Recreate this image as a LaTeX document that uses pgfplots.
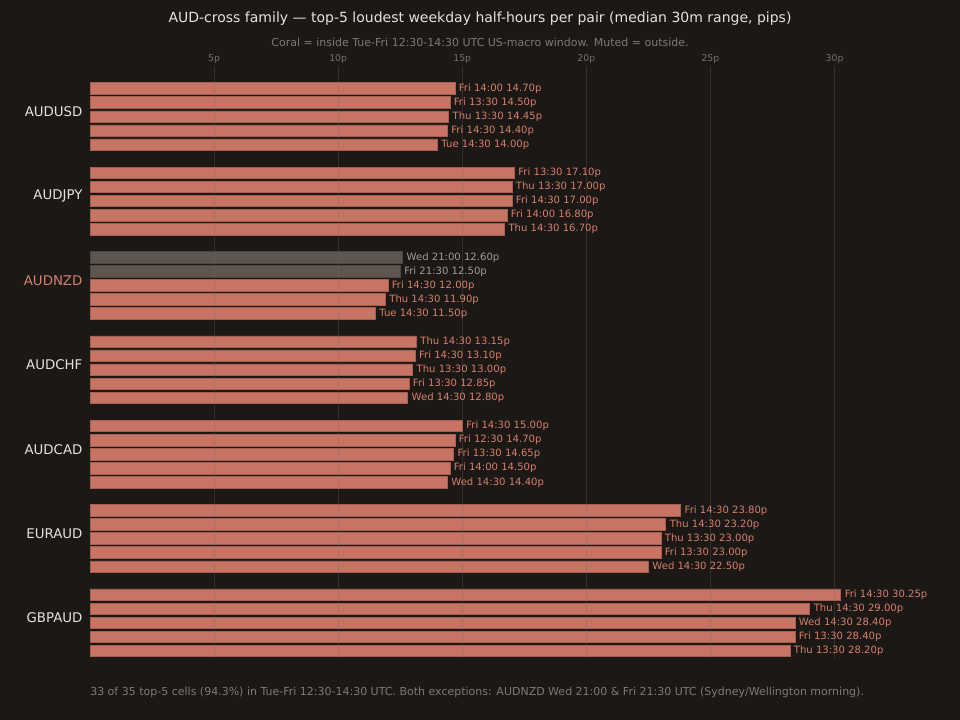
\documentclass[border=0pt]{standalone}
\usepackage{pgfplots}
\pgfplotsset{compat=1.18}
\usepackage{fontspec}
\setmainfont{DejaVu Sans}
\definecolor{bgc}{RGB}{28,24,22}
\definecolor{coral}{RGB}{200,116,100}
\definecolor{coraledge}{RGB}{165,95,82}
\definecolor{coraltxt}{RGB}{214,128,108}
\definecolor{muted}{RGB}{92,85,80}
\definecolor{mutededge}{RGB}{76,70,66}
\definecolor{mutedtxt}{RGB}{165,157,150}
\definecolor{titlec}{RGB}{232,226,220}
\definecolor{subc}{RGB}{128,120,114}
\definecolor{tickc}{RGB}{120,112,106}
\definecolor{gridc}{RGB}{108,100,95}
\begin{document}
\begin{tikzpicture}
\fill[bgc] (0,0) rectangle (720pt,-540pt);
\useasboundingbox (0,0) rectangle (720pt,-540pt);
\begin{axis}[
  at={(67.5pt,-49.5pt)}, anchor=north west,
  scale only axis, width=631pt, height=444pt,
  xmin=0, xmax=33.9, ymin=-1.6, ymax=40.5, y dir=reverse,
  axis line style={draw=none},
  major tick length=0pt,
  xtick={5,10,15,20,25,30},
  xticklabels={5p,10p,15p,20p,25p,30p},
  xticklabel pos=upper,
  xticklabel style={font=\fontsize{7}{8}\selectfont, text=tickc, inner sep=0pt, yshift=1.5pt},
  ytick={1.6,7.6,13.6,19.6,25.6,31.6,37.6},
  yticklabels={AUDUSD,AUDJPY,\textcolor{coraltxt}{AUDNZD},AUDCHF,AUDCAD,EURAUD,GBPAUD},
  yticklabel style={font=\fontsize{10}{12}\selectfont, text=titlec, inner sep=0pt, xshift=-5.5pt, yshift=-0.5pt},
  xmajorgrids, grid style={gridc, opacity=0.3, line width=0.6pt},
  axis on top,
  clip=false,
  xbar, bar width=0.82,
  point meta=explicit symbolic,
  nodes near coords={\pgfplotspointmeta},
  nodes near coords style={anchor=west, inner sep=0pt, xshift=2.8pt, font=\fontsize{7.55}{8}\selectfont},
]
\addplot[bar shift=0pt, fill=coral, draw=coraledge, line width=0.45pt,
  nodes near coords style={text=coraltxt}] coordinates {
  (14.70,0) [Fri 14:00 14.70p]
  (14.50,1) [Fri 13:30 14.50p]
  (14.45,2) [Thu 13:30 14.45p]
  (14.40,3) [Fri 14:30 14.40p]
  (14.00,4) [Tue 14:30 14.00p]
  (17.10,6) [Fri 13:30 17.10p]
  (17.00,7) [Thu 13:30 17.00p]
  (17.00,8) [Fri 14:30 17.00p]
  (16.80,9) [Fri 14:00 16.80p]
  (16.70,10) [Thu 14:30 16.70p]
  (12.00,14) [Fri 14:30 12.00p]
  (11.90,15) [Thu 14:30 11.90p]
  (11.50,16) [Tue 14:30 11.50p]
  (13.15,18) [Thu 14:30 13.15p]
  (13.10,19) [Fri 14:30 13.10p]
  (13.00,20) [Thu 13:30 13.00p]
  (12.85,21) [Fri 13:30 12.85p]
  (12.80,22) [Wed 14:30 12.80p]
  (15.00,24) [Fri 14:30 15.00p]
  (14.70,25) [Fri 12:30 14.70p]
  (14.65,26) [Fri 13:30 14.65p]
  (14.50,27) [Fri 14:00 14.50p]
  (14.40,28) [Wed 14:30 14.40p]
  (23.80,30) [Fri 14:30 23.80p]
  (23.20,31) [Thu 14:30 23.20p]
  (23.00,32) [Thu 13:30 23.00p]
  (23.00,33) [Fri 13:30 23.00p]
  (22.50,34) [Wed 14:30 22.50p]
  (30.25,36) [Fri 14:30 30.25p]
  (29.00,37) [Thu 14:30 29.00p]
  (28.40,38) [Wed 14:30 28.40p]
  (28.40,39) [Fri 13:30 28.40p]
  (28.20,40) [Thu 13:30 28.20p]
};
\addplot[bar shift=0pt, fill=muted, draw=mutededge, line width=0.45pt,
  nodes near coords style={text=mutedtxt}] coordinates {
  (12.60,12) [Wed 21:00 12.60p]
  (12.50,13) [Fri 21:30 12.50p]
};
\end{axis}
\node[text=titlec, font=\fontsize{10.5}{12}\selectfont] at (360pt,-14.25pt) {AUD-cross family — top-5 loudest weekday half-hours per pair (median 30m range, pips)};
\node[text=subc, font=\fontsize{8.25}{10}\selectfont] at (360pt,-31.5pt) {Coral = inside Tue-Fri 12:30-14:30 UTC US-macro window. Muted = outside.};
\node[text=subc, font=\fontsize{8.25}{10}\selectfont, anchor=base west, inner sep=0pt] at (67.5pt,-521.5pt) {33 of 35 top-5 cells (94.3\%) in Tue-Fri 12:30-14:30 UTC. Both exceptions: AUDNZD Wed 21:00 \& Fri 21:30 UTC (Sydney/Wellington morning).};
\end{tikzpicture}
\end{document}
